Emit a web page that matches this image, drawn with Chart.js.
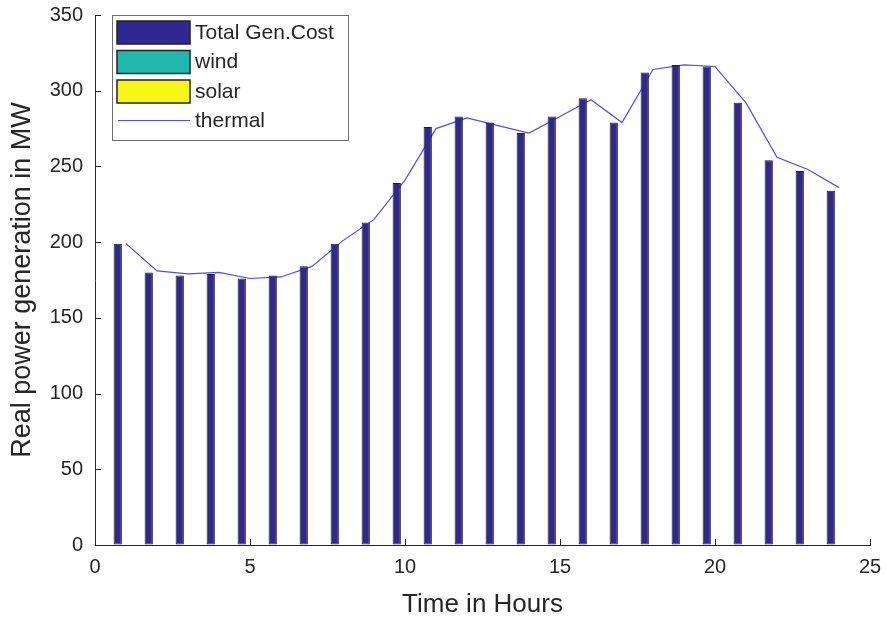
<!DOCTYPE html>
<html>
<head>
<meta charset="utf-8">
<script src="https://cdn.jsdelivr.net/npm/chart.js@4.4.1/dist/chart.umd.min.js"></script>
<style>
  html, body { margin: 0; padding: 0; background: #fff; }
  #wrap { width: 886px; height: 620px; }
</style>
</head>
<body>
<div id="wrap"><canvas id="chart" width="886" height="620"></canvas></div>
<script>
const hours = [1, 2, 3, 4, 5, 6, 7, 8, 9, 10, 11, 12, 13, 14, 15, 16, 17, 18, 19, 20, 21, 22, 23, 24];
const totalGen = [199, 180, 178, 179, 176, 178, 184, 199, 213, 239, 276, 283, 279, 272, 283, 295, 279, 312, 317, 316, 292, 254, 247, 234];
const wind = [0, 0, 0, 0, 0, 0, 0, 0, 0, 0, 0, 0, 0, 0, 0, 0, 0, 0, 0, 0, 0, 0, 0, 0];
const solar = [0, 0, 0, 0, 0, 0, 0, 0, 0, 0, 0, 0, 0, 0, 0, 0, 0, 0, 0, 0, 0, 0, 0, 0];
const thermal = [199, 181, 179, 180, 176, 177, 184, 201, 215, 241, 275, 282, 277, 272, 283, 294, 279, 314, 317, 316, 292, 256, 248, 236];
const xTicks = [0, 5, 10, 15, 20, 25];
const yTicks = [0, 50, 100, 150, 200, 250, 300, 350];

const TEXT = '#262626';
const FONT = '"Liberation Sans", Arial, Helvetica, sans-serif';

const pts = (vals) => hours.map((h, i) => ({ x: h, y: vals[i] }));

// MATLAB-style ticks pointing into the axes
const inwardTicks = {
  id: 'inwardTicks',
  afterDatasetsDraw(chart) {
    const { ctx, chartArea: a, scales: { x, y } } = chart;
    ctx.save();
    ctx.strokeStyle = TEXT;
    ctx.lineWidth = 1;
    ctx.beginPath();
    x.ticks.forEach((t) => {
      const px = Math.round(x.getPixelForValue(t.value)) + 0.5;
      ctx.moveTo(px, a.bottom);
      ctx.lineTo(px, a.bottom - 6);
    });
    y.ticks.forEach((t) => {
      const py = Math.round(y.getPixelForValue(t.value)) + 0.5;
      ctx.moveTo(a.left, py);
      ctx.lineTo(a.left + 6, py);
    });
    ctx.stroke();
    ctx.restore();
  },
};

// legend box inside the axes, top-left
const boxLegend = {
  id: 'boxLegend',
  afterDraw(chart) {
    const ctx = chart.ctx;
    const L = 112, T = 15, W = 236, H = 125;
    ctx.save();
    ctx.fillStyle = '#fff';
    ctx.fillRect(L, T, W, H);
    ctx.strokeStyle = '#6e6e6e';
    ctx.lineWidth = 1;
    ctx.strokeRect(L + 0.5, T + 0.5, W, H);
    ctx.font = '21px ' + FONT;
    ctx.textBaseline = 'middle';
    chart.data.datasets.forEach((ds, i) => {
      const cy = T + 17 + i * 29.5;
      if (ds.type === 'line') {
        ctx.strokeStyle = ds.borderColor;
        ctx.lineWidth = 1.2;
        ctx.beginPath();
        ctx.moveTo(118, cy);
        ctx.lineTo(190, cy);
        ctx.stroke();
      } else {
        ctx.fillStyle = ds.backgroundColor;
        ctx.fillRect(117, cy - 11, 73, 23);
        ctx.strokeStyle = '#222';
        ctx.lineWidth = 1.5;
        ctx.strokeRect(117, cy - 11, 73, 23);
      }
      ctx.fillStyle = TEXT;
      ctx.fillText(ds.label, 195, cy + 1);
    });
    ctx.restore();
  },
};

const barStyle = { borderColor: '#1a1a3a', borderWidth: 1, borderSkipped: false, categoryPercentage: 0.8, barPercentage: 1.0 };

new Chart(document.getElementById('chart'), {
  type: 'bar',
  data: {
    datasets: [
      { label: 'Total Gen.Cost', data: pts(totalGen), backgroundColor: '#30288f', ...barStyle },
      { label: 'wind', data: pts(wind), backgroundColor: '#20b8ad', ...barStyle },
      { label: 'solar', data: pts(solar), backgroundColor: '#f6f614', ...barStyle },
      {
        label: 'thermal', type: 'line', data: pts(thermal),
        borderColor: '#4f4fe6', borderWidth: 1.2, pointRadius: 0, tension: 0, fill: false,
      },
    ],
  },
  options: {
    responsive: false,
    animation: false,
    layout: { padding: { top: 15, right: 16, left: 0, bottom: 0 } },
    plugins: { legend: { display: false }, tooltip: { enabled: false } },
    scales: {
      x: {
        type: 'linear',
        min: 0,
        max: 25,
        offset: false,
        afterBuildTicks: (s) => { s.ticks = xTicks.map((v) => ({ value: v })); },
        afterFit: (s) => { s.height = 75; s.paddingLeft = 0; s.paddingRight = 0; },
        ticks: { color: TEXT, font: { family: FONT, size: 20 }, padding: 10, maxRotation: 0 },
        grid: { offset: false, drawOnChartArea: false, drawTicks: false },
        border: { display: true, color: TEXT, width: 1 },
        title: {
          display: true, text: 'Time in Hours', color: TEXT,
          font: { family: FONT, size: 26 }, padding: { top: 0, bottom: 0 },
        },
      },
      y: {
        min: 0,
        max: 350,
        afterBuildTicks: (s) => { s.ticks = yTicks.map((v) => ({ value: v })); },
        afterFit: (s) => { s.width = 95; s.paddingTop = 0; s.paddingBottom = 0; },
        ticks: { color: TEXT, font: { family: FONT, size: 20 }, padding: 12 },
        grid: { drawOnChartArea: false, drawTicks: false },
        border: { display: true, color: TEXT, width: 1 },
        title: {
          display: true, text: 'Real power generation in MW', color: TEXT,
          font: { family: FONT, size: 27 }, padding: { top: 6, bottom: 0 },
        },
      },
    },
  },
  plugins: [inwardTicks, boxLegend],
});
</script>
</body>
</html>
